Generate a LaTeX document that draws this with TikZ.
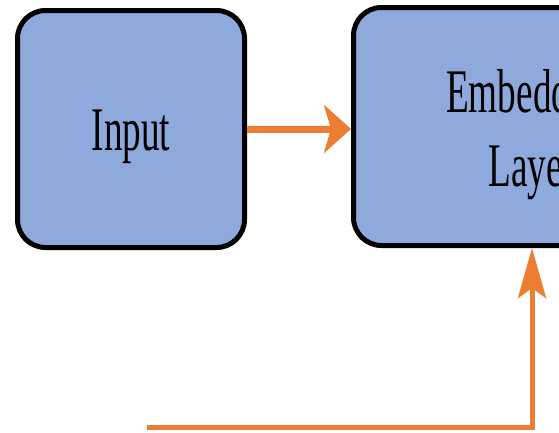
\documentclass[tikz,border=0pt]{standalone}
\usepackage{fontspec}
\setmainfont{Liberation Serif}
\usetikzlibrary{arrows.meta}
\definecolor{boxblue}{HTML}{8EA9DB}
\definecolor{flow}{HTML}{ED7D31}
\tikzset{
  block/.style={draw=black, line width=5pt, fill=boxblue, rounded corners=28pt,
    inner sep=0pt, font=\fontsize{62}{74}\selectfont},
  flowline/.style={draw=flow, line width=#1},
}
\newcommand{\narrow}[1]{\raisebox{-8pt}[\height][\depth]{\scalebox{0.6}[1]{#1}}}
\begin{document}
\begin{tikzpicture}[x=1pt,y=1pt]
  \useasboundingbox (0,0) rectangle (559,-432);
  \clip (0,0) rectangle (559,-432);
  \fill[white] (0,0) rectangle (559,-432);

  % processing blocks
  \node[block, minimum width=227pt, minimum height=237pt] (input) at (131,-129)
    {\narrow{Input}};
  \node[block, minimum width=357pt, minimum height=238pt] (embed) at (532,-126.5)
    {\narrow{\begin{tabular}{@{}c@{}}Embedding\\Layer\end{tabular}}};

  % connectors
  \coordinate (loop) at (147,-427);
  \draw[flowline=7pt, -{Stealth[length=27pt, width=48pt, inset=7pt]}]
    (input.east) -- (input.east -| embed.west);
  \draw[flowline=5pt, -{Stealth[length=50pt, width=28pt, inset=10pt]}]
    (loop) -| (embed.south);
\end{tikzpicture}
\end{document}
